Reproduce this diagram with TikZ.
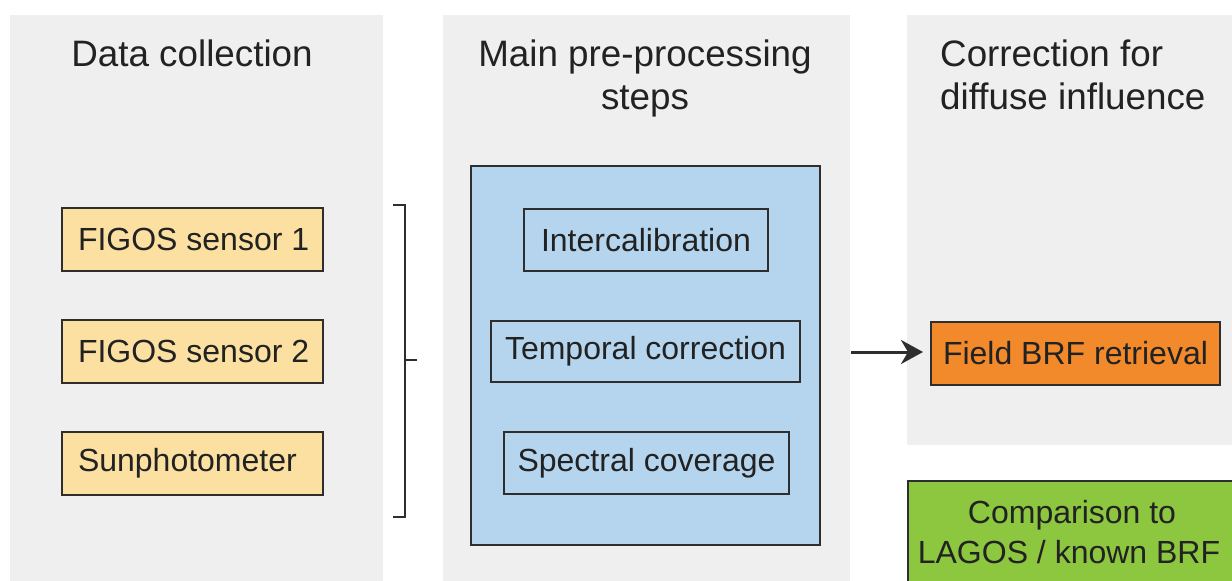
\documentclass[tikz,border=0pt]{standalone}
\usepackage{fontspec}
\setmainfont{Liberation Sans}
\usetikzlibrary{arrows.meta}
\definecolor{panelgray}{HTML}{EFEFEF}
\definecolor{bluefill}{HTML}{B5D5EE}
\definecolor{yellowfill}{HTML}{FBE0A2}
\definecolor{orangefill}{HTML}{F28A2C}
\definecolor{greenfill}{HTML}{8DC63F}
\definecolor{edgecol}{HTML}{2E2E2E}
\definecolor{ink}{HTML}{222222}
\tikzset{
  panel/.style={fill=panelgray, draw=none},
  title/.style={font=\fontsize{36.8}{43}\selectfont, text=ink, inner sep=0pt},
  boxtext/.style={font=\fontsize{32}{40}\selectfont, text=ink},
  srcbox/.style={boxtext, draw=edgecol, line width=2pt, fill=yellowfill, minimum width=261pt, minimum height=63pt, inner sep=0pt},
  stepbox/.style={boxtext, draw=edgecol, line width=2pt, fill=bluefill, minimum height=62pt, inner sep=0pt},
  bracketline/.style={draw=edgecol, line width=1.5pt},
  arrowline/.style={draw=edgecol, line width=3pt, shorten >=7pt, -{Stealth[length=22pt,width=24pt,inset=7pt]}},
}
\newcommand{\lbox}[1]{\makebox[229pt][l]{#1}}
\begin{document}
\begin{tikzpicture}[x=1pt,y=-1pt]
\useasboundingbox (0,0) rectangle (1232,581);
\fill[white] (0,0) rectangle (1232,581);
% panels
\path[panel] (10,15) rectangle (383,600);
\path[panel] (443,15) rectangle (850,600);
\path[panel] (907,15) rectangle (1250,445);
% titles
\node[title, anchor=base] (t1) at (192,66) {Data collection};
\node[title, anchor=base] (t2a) at (645,66) {Main pre-processing};
\node[title, anchor=base] (t2b) at (645,109) {steps};
\node[title, anchor=base west] (t3a) at (940,66) {Correction for};
\node[title, anchor=base west] (t3b) at (940,109) {diffuse influence};
% source boxes
\node[srcbox] (s1) at (192.5,239.5) {\lbox{FIGOS sensor 1}};
\node[srcbox] (s2) at (192.5,351.5) {\lbox{FIGOS sensor 2}};
\node[srcbox] (s3) at (192.5,463) {\lbox{Sunphotometer}};
% bracket
\coordinate (bt0) at (393,205);
\coordinate (bt1) at (405,205);
\coordinate (bb1) at (405,517);
\coordinate (bb0) at (393,517);
\coordinate (bm0) at (405,360);
\coordinate (bm1) at (417,360);
\draw[bracketline] (bt0) -- (bt1) -- (bb1) -- (bb0);
\draw[bracketline] (bm0) -- (bm1);
% blue box
\node[draw=edgecol, line width=2pt, fill=bluefill, minimum width=349pt, minimum height=379pt, inner sep=0pt] (blue) at (645.5,355.5) {};
\node[stepbox, minimum width=244pt] (p1) at (646,240) {Intercalibration};
\node[stepbox, minimum width=309pt, minimum height=61pt] (p2) at (645.5,351.5) {Temporal correction};
\node[stepbox, minimum width=285pt] (p3) at (646.5,463) {Spectral coverage};
% field BRF
\node[boxtext, draw=edgecol, line width=2pt, fill=orangefill, minimum width=289pt, minimum height=63pt, inner sep=0pt] (brf) at (1075.5,353.5) {Field BRF retrieval};
\coordinate (astart) at (851,352);
\draw[arrowline] (astart) -- (brf.west |- astart);
% comparison
\node[draw=edgecol, line width=2pt, fill=greenfill, minimum width=340pt, minimum height=120pt, inner sep=0pt, anchor=north west] (cmp) at (907,480) {};
\node[boxtext, inner sep=0pt, anchor=base] (cmpa) at (1072,523) {Comparison to};
\node[boxtext, inner sep=0pt, anchor=base] (cmpb) at (1069,563) {LAGOS / known BRF};
\end{tikzpicture}
\end{document}
